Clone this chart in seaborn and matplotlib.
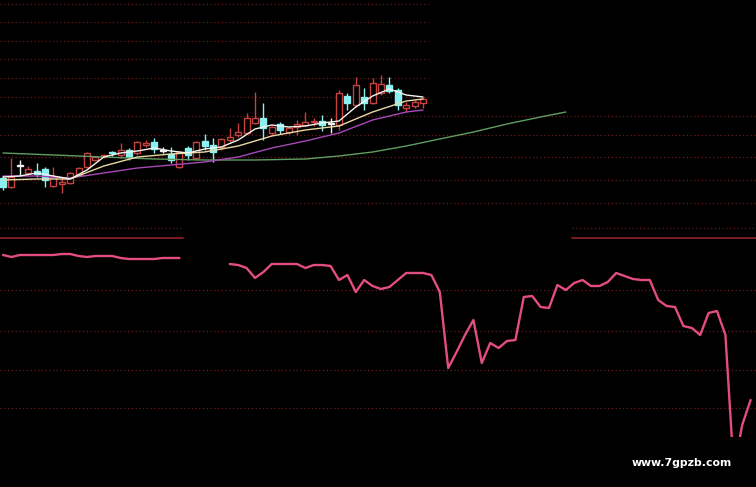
import numpy as np
import pandas as pd
import matplotlib.pyplot as plt
import seaborn as sns

# ----- price bars (upper panel) -----
opens = [6.2, 5.3, 7.4, 6.7, 6.9, 7.1, 5.4, 5.6, 5.7, 6.5,
         7.3, 8.0, 8.4, 8.8, 8.5, 9.0, 8.7, 9.5, 9.8, 8.9,
         8.6, 7.3, 9.2, 8.2, 9.9, 9.5, 9.3, 10.0, 10.5, 10.7,
         11.7, 12.2, 10.7, 11.6, 10.8, 11.3, 11.5, 11.8, 11.9, 11.6,
         11.5, 14.4, 13.5, 14.3, 13.7, 14.7, 15.5, 15.0, 13.2, 13.4, 13.7]
closes = [5.3, 6.3, 7.4, 7.1, 6.6, 6.0, 6.3, 5.8, 6.7, 7.2,
          8.7, 8.3, 8.5, 8.7, 9.0, 8.3, 9.8, 9.7, 9.1, 8.9,
          8.0, 8.8, 8.5, 9.8, 9.4, 8.8, 10.1, 10.3, 10.8, 12.2,
          12.2, 11.2, 11.3, 11.0, 11.2, 11.6, 11.8, 11.9, 11.5, 11.6,
          14.7, 13.7, 15.5, 13.7, 15.7, 15.6, 14.9, 13.5, 13.5, 13.8, 14.1]
highs = [6.4, 8.2, 8.0, 7.4, 7.7, 7.3, 7.3, 6.3, 6.8, 7.3,
         8.8, 8.4, 8.6, 8.9, 9.7, 9.2, 9.9, 10.0, 10.2, 9.3,
         9.3, 8.9, 9.4, 9.9, 10.6, 10.2, 10.2, 11.2, 11.7, 12.7,
         14.8, 13.7, 11.4, 11.8, 11.3, 12.0, 12.8, 12.2, 12.5, 12.2,
         15.0, 14.7, 16.3, 15.2, 16.2, 16.5, 16.3, 15.2, 13.8, 14.0, 14.3]
lows = [5.0, 5.2, 6.4, 6.6, 6.3, 5.3, 5.3, 4.7, 5.6, 6.4,
        7.2, 7.9, 8.2, 8.4, 8.2, 8.0, 8.5, 9.3, 8.7, 8.7,
        7.7, 7.2, 8.0, 8.0, 9.0, 7.8, 9.0, 9.8, 10.3, 10.6,
        11.6, 10.0, 10.5, 10.6, 10.6, 10.5, 11.4, 11.4, 10.9, 10.7,
        11.0, 13.0, 13.3, 13.0, 13.6, 14.5, 14.7, 13.0, 12.8, 13.2, 13.2]

# moving averages
ma5_idx = list(range(0, 51, 2))
ma5 = [6.3, 6.4, 6.7, 6.4, 6.1, 7.0, 8.3, 8.7, 8.9, 9.2, 8.9, 8.7, 9.1,
       9.3, 10.0, 11.1, 11.5, 11.3, 11.4, 11.7, 11.9, 13.3, 14.4, 15.1, 14.5, 14.3]
ma_idx = [0, 4, 8, 12, 16, 20, 24, 28, 32, 36, 40, 44, 48, 50]
ma10 = [6.0, 6.1, 6.1, 7.4, 8.3, 8.6, 8.8, 9.4, 10.4, 11.0, 11.4, 12.8, 13.9, 14.1]
ma20 = [6.4, 6.4, 6.2, 6.7, 7.2, 7.5, 7.8, 8.3, 9.2, 9.9, 10.7, 12.0, 12.8, 13.0]
ma60_idx = [0, 6, 12, 18, 24, 30, 36, 40, 44, 48, 52, 56, 60, 64, 67]
ma60 = [8.7, 8.5, 8.3, 8.1, 8.0, 8.0, 8.1, 8.4, 8.8, 9.4, 10.1, 10.8, 11.6, 12.3, 12.8]

# ----- indicator (lower panel), nan = hidden part -----
nan = np.nan
indicator = [91.0, 90.0, 91.0, 91.0, 91.0, 91.0, 91.0, 91.5, 91.5, 90.5,
             90.0, 90.5, 90.5, 90.5, 89.5, 89.0, 89.0, 89.0, 89.0, 89.5,
             89.5, 89.5, nan, nan, nan, nan, nan, 86.5, 86.0, 84.5,
             79.5, 82.5, 86.5, 86.5, 86.5, 86.5, 84.5, 86.0, 86.0, 85.5,
             78.5, 81.0, 72.5, 78.5, 75.5, 74.0, 75.0, 78.5, 82.0, 82.0,
             82.0, 81.0, 72.5, 34.5, 42.5, 51.0, 58.5, 37.0, 47.0, 44.5,
             48.0, 48.5, 70.0, 70.5, 65.0, 64.5, 76.0, 73.5, 77.0, 78.5,
             75.5, 75.5, 77.5, 82.0, 80.5, 79.0, 78.5, 78.5, 68.5, 65.5,
             65.0, 55.5, 54.5, 51.0, 62.0, 63.0, 51.0, -16.5, 6.0, 18.5]

upper_levels = [23.6, 21.8, 19.9, 18.1, 16.2, 14.3]
upper_full = [12.4, 10.5, 8.3, 6.0, 3.7]
lower_levels = [73.5, 53.0, 33.5, 14.5]

RED, CYAN, WHITE = "#c84040", "#8af0f0", "#f0f0f0"
GRID = "#6a1c1c"
PINK = "#e44d82"

sns.set_style("dark", {"axes.facecolor": "black", "figure.facecolor": "black"})

fig = plt.figure(figsize=(7.56, 4.87), dpi=100)
fig.patch.set_facecolor("black")
ax1 = fig.add_axes([0, 1 - 215 / 487, 1, 215 / 487])
ax2 = fig.add_axes([0, 1 - 437 / 487, 1, 222 / 487])
for ax in (ax1, ax2):
    ax.set_facecolor("black")
    ax.set_xlim(-3 / 8.4, 753 / 8.4)
    ax.axis("off")
ax1.set_ylim(2.5, 24)
ax2.set_ylim(0, 111)

# grid
for lv in upper_levels:
    ax1.axhline(lv, xmin=0, xmax=0.566, color=GRID, lw=0.9, ls=(0, (1, 2)), zorder=1)
for lv in upper_full:
    ax1.axhline(lv, color=GRID, lw=0.9, ls=(0, (1, 2)), zorder=1)
for lv in lower_levels:
    ax2.axhline(lv, color=GRID, lw=0.9, ls=(0, (1, 2)), zorder=1)
for a, b in [(0, 0.242), (0.757, 1.0)]:
    ax2.axhline(104.5, xmin=a, xmax=b, color=GRID, lw=0.9, ls=(0, (1, 2)), zorder=1)
    ax2.axhline(99.5, xmin=a, xmax=b, color="#8a2020", lw=1.3, zorder=1)

# candles
o, c, h, l = map(np.array, (opens, closes, highs, lows))
x = np.arange(len(o))
col = np.where(c > o, RED, np.where(c < o, CYAN, WHITE))
face = np.where(c > o, "black", col)
ax1.vlines(x, l, h, colors=col, lw=1, zorder=2)
ax1.bar(x, np.maximum(np.abs(c - o), 0.08), bottom=np.minimum(o, c), width=0.7,
        color=face, edgecolor=col, linewidth=1, zorder=3)

# moving averages
for xs, ys, colr in [(ma60_idx, ma60, "#5f9e5f"), (ma_idx, ma20, "#a848b8"),
                     (ma_idx, ma10, "#e8d8a4"), (ma5_idx, ma5, "#f4f4ec")]:
    sns.lineplot(x=xs, y=ys, ax=ax1, color=colr, lw=1.0, zorder=4)

# indicator line, split where hidden
df = pd.DataFrame({"idx": np.arange(len(indicator)), "val": indicator})
df["seg"] = df["val"].isna().cumsum()
sns.lineplot(data=df.dropna(), x="idx", y="val", units="seg", estimator=None,
             ax=ax2, color=PINK, lw=1.7, zorder=4)
ax2.axis("off")
ax1.axis("off")

fig.text(0.902, 0.049, "www.7gpzb.com", color="white", fontsize=7.8,
         fontweight="semibold", ha="center", va="center")

fig.savefig("out.png", dpi=100, facecolor="black")
